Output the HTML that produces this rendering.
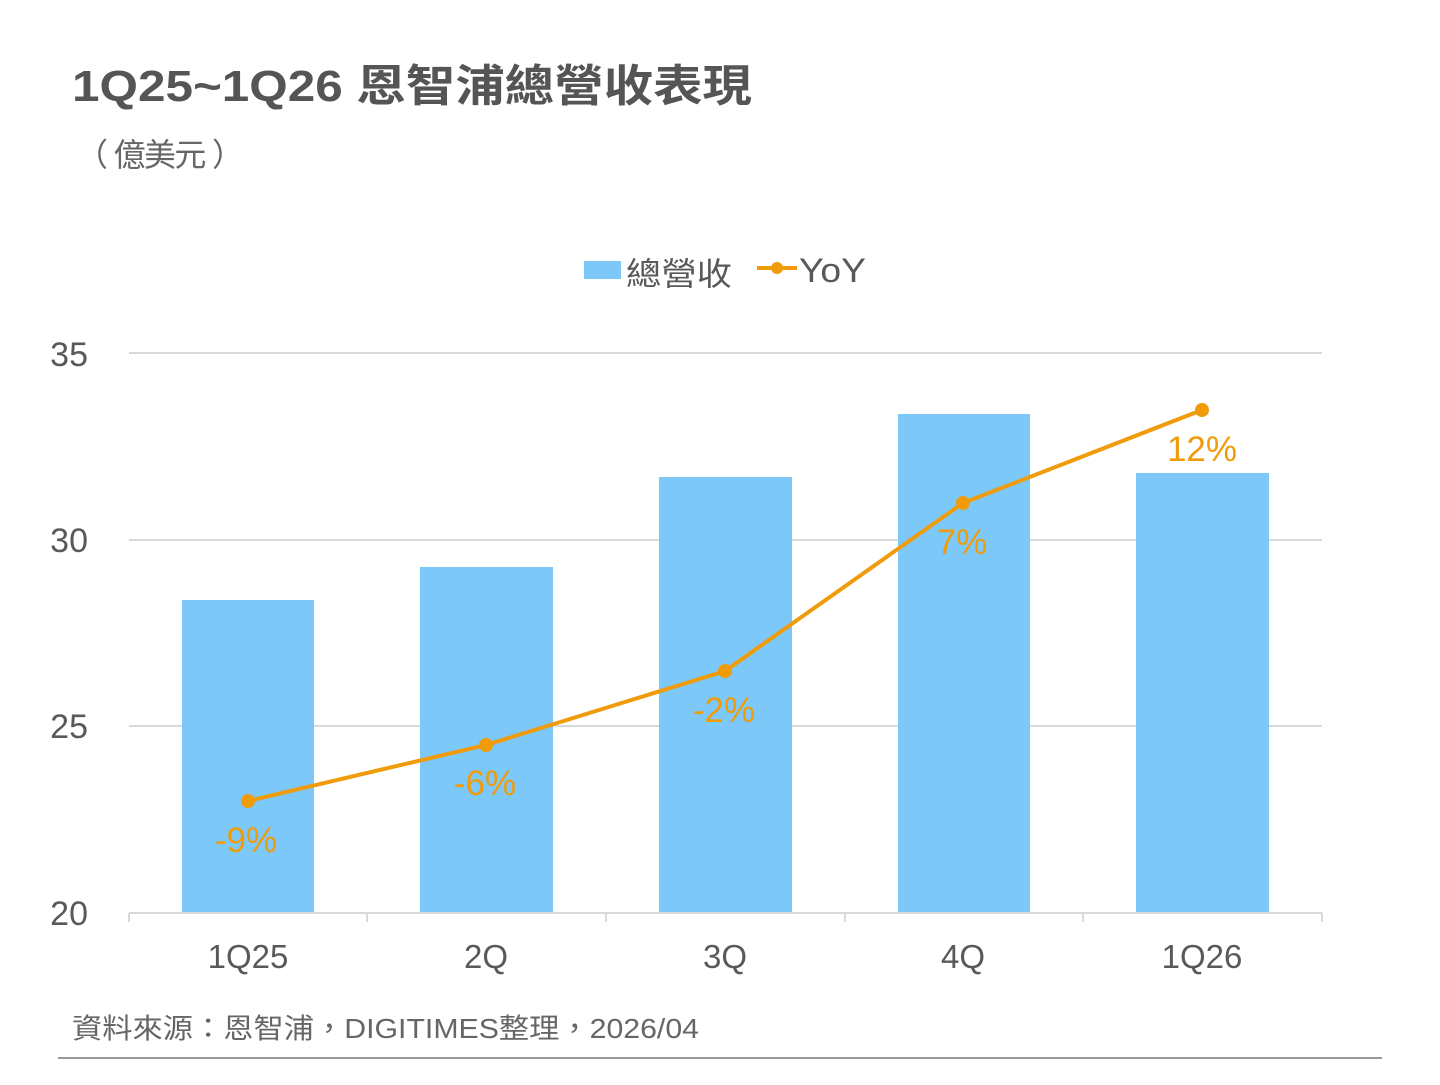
<!DOCTYPE html>
<html><head><meta charset="utf-8"><style>
html,body{margin:0;padding:0;background:#fff;}
body{width:1440px;height:1080px;overflow:hidden;}
</style></head><body>
<svg width="1440" height="1080" xmlns="http://www.w3.org/2000/svg" font-family="'Liberation Sans','Noto Sans CJK TC',sans-serif">
<text x="72" y="101" font-size="44" font-weight="bold" fill="#555" textLength="680" lengthAdjust="spacingAndGlyphs">1Q25~1Q26 恩智浦總營收表現</text>
<text x="76" y="166" font-size="32" fill="#666" textLength="168" lengthAdjust="spacing">（ 億美元 ）</text>
<rect x="584" y="261" width="37" height="18" fill="#7cc8f8"/>
<text x="626" y="285" font-size="32" fill="#595959" textLength="106" lengthAdjust="spacingAndGlyphs">總營收</text>
<line x1="757" y1="268" x2="797" y2="268" stroke="#f09c0a" stroke-width="4"/>
<circle cx="777" cy="268" r="6" fill="#f09c0a"/>
<text x="799" y="282" font-size="34" fill="#595959" textLength="67" lengthAdjust="spacingAndGlyphs">YoY</text>
<g stroke="#d9d9d9" stroke-width="2">
<line x1="129" y1="353" x2="1322" y2="353"/>
<line x1="129" y1="540" x2="1322" y2="540"/>
<line x1="129" y1="726" x2="1322" y2="726"/>
</g>
<g font-size="34" fill="#595959" text-anchor="end">
<text x="88" y="366">35</text>
<text x="88" y="552">30</text>
<text x="88" y="738">25</text>
<text x="88" y="925">20</text>
</g>
<g fill="#7cc8f8">
<rect x="182" y="600" width="132" height="313"/>
<rect x="420" y="567" width="133" height="346"/>
<rect x="659" y="477" width="133" height="436"/>
<rect x="898" y="414" width="132" height="499"/>
<rect x="1136" y="473" width="133" height="440"/>
</g>
<g stroke="#d9d9d9" stroke-width="2">
<line x1="129" y1="913" x2="1322" y2="913"/>
<line x1="129" y1="913" x2="129" y2="922"/>
<line x1="367" y1="913" x2="367" y2="922"/>
<line x1="606" y1="913" x2="606" y2="922"/>
<line x1="845" y1="913" x2="845" y2="922"/>
<line x1="1083" y1="913" x2="1083" y2="922"/>
<line x1="1322" y1="913" x2="1322" y2="922"/>
</g>
<g font-size="33" fill="#595959" text-anchor="middle">
<text x="248" y="968">1Q25</text>
<text x="486" y="968">2Q</text>
<text x="725" y="968">3Q</text>
<text x="963" y="968">4Q</text>
<text x="1202" y="968">1Q26</text>
</g>
<polyline points="248,801 486,745 725,671 963,503 1202,410" fill="none" stroke="#f09c0a" stroke-width="4"/>
<g fill="#f09c0a">
<circle cx="248" cy="801" r="7"/><circle cx="486" cy="745" r="7"/><circle cx="725" cy="671" r="7"/><circle cx="963" cy="503" r="7"/><circle cx="1202" cy="410" r="7"/>
</g>
<g font-size="35" fill="#f09c0a" text-anchor="middle">
<text x="246" y="852">-9%</text>
<text x="485" y="795">-6%</text>
<text x="724" y="722">-2%</text>
<text x="962" y="554">7%</text>
<text x="1202" y="461">12%</text>
</g>
<text x="72" y="1038" font-size="28" fill="#666" textLength="627" lengthAdjust="spacingAndGlyphs">資料來源：恩智浦，DIGITIMES整理，2026/04</text>
<line x1="58" y1="1058" x2="1382" y2="1058" stroke="#999" stroke-width="2"/>
</svg>
</body></html>
